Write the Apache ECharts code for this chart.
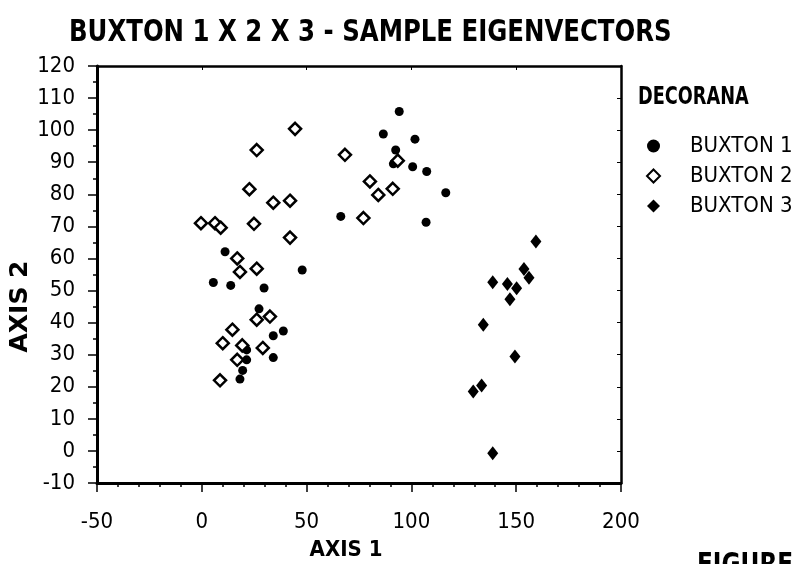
<!DOCTYPE html>
<html>
<head>
<meta charset="utf-8">
<script src="https://cdn.jsdelivr.net/npm/echarts@6/dist/echarts.min.js"></script>
<style>
  html, body { margin: 0; padding: 0; background: #fff; }
  #main { width: 801px; height: 564px; }
</style>
</head>
<body>
<div id="main"></div>
<script>
// sample eigenvector scores, [axis 1, axis 2]
var buxton1 = [
  [94.2, 105.8], [86.6, 98.8], [101.7, 97.2], [92.5, 93.8], [91.4, 89.5],
  [100.6, 88.6], [107.3, 87.1], [116.4, 80.5], [107.0, 71.3], [66.3, 73.1],
  [47.9, 56.4], [11.1, 62.1], [5.5, 52.5], [13.8, 51.6], [29.7, 50.8],
  [27.3, 44.3], [38.9, 37.4], [34.1, 35.9], [34.1, 29.1], [21.4, 31.5],
  [21.4, 28.4], [19.5, 25.1], [18.2, 22.4]
];
var buxton2 = [
  [22.7, 81.6], [34.1, 77.4], [42.1, 78.0], [-0.4, 71.0], [6.3, 71.0],
  [9.0, 69.6], [24.9, 70.8], [42.1, 66.5], [16.9, 60.0], [18.2, 55.8],
  [26.2, 56.8], [32.5, 41.9], [26.2, 40.9], [14.6, 37.8], [10.0, 33.6],
  [19.3, 32.9], [16.9, 28.4], [29.1, 32.1], [8.7, 22.0], [80.2, 84.0],
  [84.2, 79.8], [91.1, 81.7], [77.1, 72.6], [68.3, 92.3], [93.5, 90.5],
  [26.2, 93.8], [44.5, 100.4]
];
var buxton3 = [
  [159.4, 65.3], [153.7, 56.7], [156.1, 54.0], [138.8, 52.6], [145.8, 52.0],
  [150.2, 50.7], [147.0, 47.3], [134.3, 39.3], [149.4, 29.4], [129.5, 18.5],
  [133.5, 20.4], [138.8, -0.7]
];
var seriesNames = ['BUXTON 1', 'BUXTON 2', 'BUXTON 3'];
var xRange = [-50, 200];
var yRange = [-10, 120];

var narrow = "'DejaVu Sans Condensed', 'Liberation Sans Narrow', sans-serif";

var myChart = echarts.init(document.getElementById('main'));

function frameAxis(pos, range, step) {
  return {
    type: 'value', position: pos, min: range[0], max: range[1], interval: step,
    axisLine: { show: true, onZero: false, lineStyle: { color: '#000', width: 2.5 } },
    axisTick: { show: true, inside: true, length: 4, lineStyle: { color: '#000', width: 1 } },
    axisLabel: { show: false }, splitLine: { show: false }
  };
}

// squeezed bold text (the original lettering is condensed)
function label(text, x, y, size, sx) {
  return {
    type: 'text', x: x, y: y, scaleX: sx,
    style: { text: text, fontFamily: narrow, fontWeight: 'bold', fontSize: size, fill: '#000', verticalAlign: 'top' }
  };
}

myChart.setOption({
  animation: false,
  backgroundColor: '#fff',
  legend: {
    orient: 'vertical', left: 641, top: 130, itemGap: 8,
    itemWidth: 13, itemHeight: 13,
    data: seriesNames,
    textStyle: { fontFamily: narrow, fontSize: 22, color: '#000', padding: [0, 0, 0, 25] }
  },
  grid: { left: 97, right: 180, top: 66, bottom: 81, containLabel: false, outerBoundsMode: 'none' },
  xAxis: [{
    type: 'value', min: xRange[0], max: xRange[1], interval: 50,
    name: 'AXIS 1', nameLocation: 'middle', nameGap: 56,
    nameTextStyle: { fontFamily: narrow, fontWeight: 'bold', fontSize: 22, color: '#000', padding: [0, 26, 0, 0] },
    axisLine: { onZero: false, lineStyle: { color: '#000', width: 3 } },
    axisTick: { length: 9, lineStyle: { color: '#000', width: 1.5 } },
    minorTick: { show: true, splitNumber: 5, length: 4, lineStyle: { color: '#000', width: 1.5 } },
    axisLabel: { margin: 28, fontFamily: narrow, fontSize: 22, color: '#000' },
    splitLine: { show: false }
  }, frameAxis('top', xRange, 50)],
  yAxis: [{
    type: 'value', min: yRange[0], max: yRange[1], interval: 10,
    name: 'AXIS 2', nameLocation: 'middle', nameGap: 64, nameMoveOverlap: false,
    nameTextStyle: { fontFamily: "'DejaVu Sans', sans-serif", fontWeight: 'bold', fontSize: 25, color: '#000', padding: [0, 64, 0, 0] },
    axisLine: { onZero: false, lineStyle: { color: '#000', width: 3 } },
    axisTick: { length: 9, lineStyle: { color: '#000', width: 1.5 } },
    minorTick: { show: true, splitNumber: 2, length: 4, lineStyle: { color: '#000', width: 1.5 } },
    axisLabel: { margin: 22, fontFamily: narrow, fontSize: 22, color: '#000' },
    splitLine: { show: false }
  }, frameAxis('right', yRange, 10)],
  series: [{
    name: seriesNames[0], type: 'scatter', data: buxton1,
    symbol: 'circle', symbolSize: 9,
    itemStyle: { color: '#000', opacity: 1 }
  }, {
    name: seriesNames[1], type: 'scatter', data: buxton2,
    symbol: 'diamond', symbolSize: 12,
    itemStyle: { color: '#fff', borderColor: '#000', borderWidth: 2.5, opacity: 1 }
  }, {
    name: seriesNames[2], type: 'scatter', data: buxton3,
    symbol: 'diamond', symbolSize: [11, 14],
    itemStyle: { color: '#000', opacity: 1 }
  }],
  graphic: [
    label('BUXTON 1 X 2 X 3 - SAMPLE EIGENVECTORS', 69, 17, 31, 0.875),
    label('DECORANA', 638, 86, 24, 0.82),
    label('FIGURE', 697, 551, 30, 0.86)
  ]
});
</script>
</body>
</html>
